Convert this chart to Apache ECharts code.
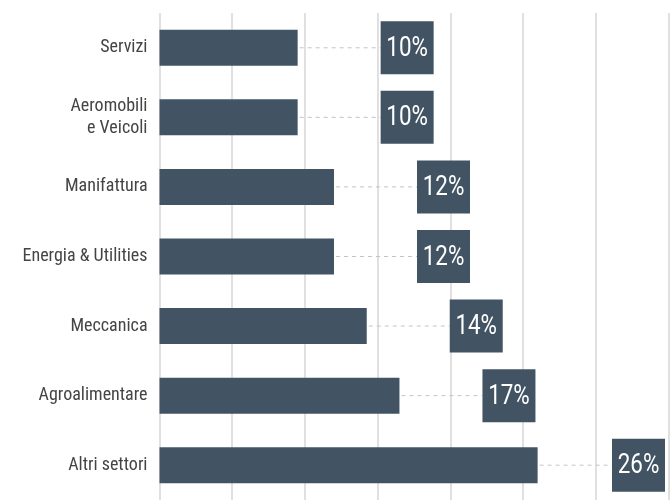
<!DOCTYPE html>
<html>
<head>
<meta charset="utf-8">
<script src="https://cdn.jsdelivr.net/npm/echarts@6/dist/echarts.min.js"></script>
<style>html,body{margin:0;padding:0;background:#fff}#c{width:670px;height:500px}</style>
</head>
<body>
<div id="c"></div>
<script>
const categories = ['Servizi', 'Aeromobili\ne Veicoli', 'Manifattura', 'Energia & Utilities', 'Meccanica', 'Agroalimentare', 'Altri settori'];
const values = [9.5, 9.5, 12, 12, 14.25, 16.5, 26];
const valueLabels = ['10%', '10%', '12%', '12%', '14%', '17%', '26%'];
const xMin = 0, xMax = 35, xInterval = 5;

const BAR = '#425464';
const FONT = '"Roboto Condensed", "Liberation Sans Narrow", "DejaVu Sans Condensed", Roboto, sans-serif';

const chart = echarts.init(document.getElementById('c'), null, {renderer: 'canvas'});
chart.setOption({
  animation: false,
  grid: {left: 159.5, right: 1.5, top: 13, bottom: -3, containLabel: false},
  xAxis: {
    type: 'value', min: xMin, max: xMax, interval: xInterval,
    axisLabel: {show: false}, axisLine: {show: false}, axisTick: {show: false},
    splitLine: {show: true, lineStyle: {color: '#d6d6d6', width: 1.5}}
  },
  yAxis: {
    type: 'category', data: categories, inverse: true,
    axisLine: {show: false}, axisTick: {show: false},
    axisLabel: {color: '#444444', fontSize: 18, fontFamily: FONT, margin: 12, lineHeight: 22, align: 'right'}
  },
  series: [
    {
      type: 'bar', data: values, barWidth: 36,
      itemStyle: {color: BAR}, z: 2
    },
    {
      type: 'custom', clip: false, z: 3,
      data: values.map((v, i) => [v, i]),
      renderItem: function (params, api) {
        const idx = params.dataIndex;
        const end = api.coord([api.value(0), api.value(1)]);
        const W = 53, H = 53;
        const x = Math.min(end[0] + 83, api.getWidth() - 5 - W);
        const y = end[1];
        return {
          type: 'group',
          children: [
            {type: 'line', shape: {x1: end[0] + 2, y1: y, x2: x, y2: y},
             style: {stroke: '#c4c4c4', lineWidth: 1, lineDash: [4, 4]}},
            {type: 'rect', shape: {x: x, y: y - H / 2, width: W, height: H}, style: {fill: BAR}},
            {type: 'text', x: x + W / 2, y: y + 1, scaleX: 0.8,
             style: {text: valueLabels[idx], fill: '#ffffff', fontSize: 28, fontFamily: 'Roboto, sans-serif',
                     align: 'center', verticalAlign: 'middle'}}
          ]
        };
      }
    }
  ]
});
</script>
</body>
</html>
